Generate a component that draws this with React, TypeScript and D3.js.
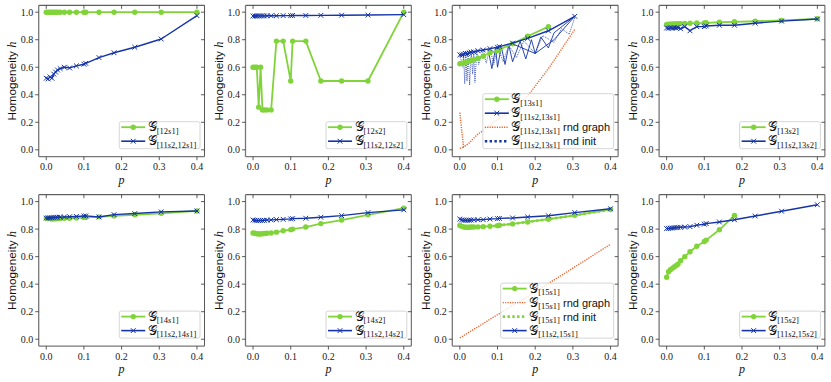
import React, { useRef, useEffect } from "react"
import * as d3 from "d3"

// p values used for every run
const pGrid = [0, 0.005, 0.01, 0.015, 0.02, 0.025, 0.03, 0.037, 0.048, 0.062, 0.08, 0.1, 0.105, 0.14, 0.18, 0.235, 0.305, 0.4]
const xTicks = [0, 0.1, 0.2, 0.3, 0.4]
const yTicks = [0, 0.2, 0.4, 0.6, 0.8, 1.0]

// panel 1
const h12s1 = [1, 1, 1, 1, 1, 1, 1, 1, 1, 1, 1, 1, 1, 1, 1, 1, 1, 1]
const h11s2_12s1 = [0.52, 0.515, 0.53, 0.52, 0.55, 0.565, 0.58, 0.59, 0.6, 0.595, 0.61, 0.622, 0.628, 0.67, 0.705, 0.745, 0.805, 0.975]
// panel 2
const h12s2 = [0.6, 0.6, 0.6, 0.31, 0.6, 0.29, 0.29, 0.29, 0.29, 0.79, 0.79, 0.5, 0.79, 0.79, 0.5, 0.5, 0.5, 1.0]
const h11s2_12s2 = [0.972, 0.972, 0.972, 0.973, 0.973, 0.973, 0.973, 0.974, 0.974, 0.974, 0.975, 0.975, 0.976, 0.976, 0.977, 0.978, 0.979, 0.982]
// panel 3
const h13s1 = [0.625, 0.628, 0.632, 0.636, 0.64, 0.645, 0.65, 0.655, 0.665, 0.68, 0.705, 0.72, 0.73, 0.77, 0.825, 0.895]
const h11s2_13s1 = [0.69, 0.69, 0.695, 0.7, 0.7, 0.705, 0.71, 0.712, 0.72, 0.725, 0.735, 0.745, 0.75, 0.775, 0.81, 0.865, 0.97]
const rndGraph13s1 = [0.27, 0.14, 0.02, 0.03, 0.04, 0.05, 0.065, 0.085, 0.115, 0.14, 0.18, 0.22, 0.23, 0.3, 0.39, 0.59, 0.875]
const rndGraph13s1StartP = [0, 0.01]
const rndGraph13s1StartH = [0.01, 0.02]
const rndInit13s1P = [0, 0.008, 0.01, 0.013, 0.016, 0.019, 0.022, 0.026, 0.03, 0.034, 0.037, 0.04, 0.045, 0.05, 0.062, 0.07, 0.08, 0.09, 0.1, 0.115, 0.13, 0.15, 0.17, 0.2, 0.22, 0.25, 0.27, 0.29, 0.305]
const rndInit13s1H = [0.69, 0.6, 0.69, 0.48, 0.7, 0.5, 0.7, 0.47, 0.71, 0.55, 0.71, 0.49, 0.72, 0.62, 0.73, 0.63, 0.74, 0.62, 0.75, 0.64, 0.76, 0.67, 0.79, 0.7, 0.83, 0.78, 0.88, 0.84, 0.96]
const runs13s1P = [0.075, 0.085, 0.095, 0.1, 0.11, 0.12, 0.13, 0.14, 0.16, 0.175, 0.19, 0.2, 0.215, 0.235, 0.25, 0.305, 0.25, 0.2, 0.14]
const runs13s1H = [0.73, 0.59, 0.74, 0.6, 0.75, 0.62, 0.76, 0.64, 0.79, 0.66, 0.8, 0.7, 0.82, 0.74, 0.85, 0.97, 0.8, 0.7, 0.77]
// panel 4
const h13s2 = [0.91, 0.912, 0.913, 0.914, 0.915, 0.915, 0.916, 0.917, 0.918, 0.92, 0.921, 0.922, 0.923, 0.927, 0.93, 0.934, 0.94, 0.952]
const h11s2_13s2 = [0.885, 0.883, 0.886, 0.884, 0.887, 0.885, 0.888, 0.88, 0.895, 0.865, 0.895, 0.895, 0.9, 0.905, 0.905, 0.92, 0.935, 0.95]
// panel 5
const h14s1 = [0.88, 0.878, 0.876, 0.874, 0.874, 0.875, 0.876, 0.877, 0.878, 0.879, 0.881, 0.884, 0.885, 0.889, 0.896, 0.904, 0.915, 0.932]
const h11s2_14s1 = [0.88, 0.881, 0.882, 0.883, 0.884, 0.885, 0.886, 0.887, 0.888, 0.89, 0.892, 0.895, 0.896, 0.888, 0.905, 0.913, 0.925, 0.932]
// panel 6
const h14s2 = [0.772, 0.77, 0.766, 0.764, 0.765, 0.766, 0.768, 0.77, 0.772, 0.778, 0.788, 0.796, 0.8, 0.815, 0.84, 0.866, 0.904, 0.952]
const h11s2_14s2 = [0.866, 0.864, 0.863, 0.862, 0.863, 0.863, 0.864, 0.865, 0.867, 0.869, 0.871, 0.874, 0.876, 0.879, 0.886, 0.898, 0.92, 0.94]
// panel 7
const h15s1 = [0.826, 0.82, 0.816, 0.814, 0.814, 0.814, 0.815, 0.815, 0.816, 0.818, 0.821, 0.825, 0.828, 0.838, 0.852, 0.872, 0.9, 0.943]
const rndGraph15s1 = [0.01, 0.018, 0.026, 0.035, 0.043, 0.052, 0.06, 0.072, 0.09, 0.113, 0.145, 0.178, 0.186, 0.245, 0.31, 0.405, 0.525, 0.69]
const rndInit15s1 = [0.826, 0.82, 0.816, 0.814, 0.814, 0.814, 0.815, 0.815, 0.816, 0.818, 0.821, 0.825, 0.828, 0.838, 0.852, 0.872, 0.9, 0.943]
const h11s2_15s1 = [0.873, 0.867, 0.865, 0.864, 0.864, 0.865, 0.866, 0.867, 0.868, 0.869, 0.873, 0.876, 0.878, 0.881, 0.888, 0.897, 0.92, 0.948]
// panel 8
const h15s2 = [0.45, 0.49, 0.505, 0.515, 0.525, 0.535, 0.545, 0.57, 0.6, 0.635, 0.675, 0.71, 0.72, 0.795, 0.9]
const h11s2_15s2 = [0.804, 0.805, 0.807, 0.808, 0.81, 0.811, 0.812, 0.813, 0.815, 0.818, 0.828, 0.836, 0.84, 0.852, 0.868, 0.895, 0.93, 0.977]

const GREEN = "#80d43a"
const BLUE = "#1434a8"
const ORANGE = "#e9602a"
const SERIF = "'Liberation Serif', 'DejaVu Serif', serif"
const SANS = "'Liberation Sans', Arial, sans-serif"

type Line = { kind: string, p: number[], h: number[], sub?: string, suffix?: string }

const panels: Line[][] = [
  [
    { kind: "green", p: pGrid, h: h12s1, sub: "[12s1]" },
    { kind: "blue", p: pGrid, h: h11s2_12s1, sub: "[11s2,12s1]" },
  ],
  [
    { kind: "green", p: pGrid, h: h12s2, sub: "[12s2]" },
    { kind: "blue", p: pGrid, h: h11s2_12s2, sub: "[11s2,12s2]" },
  ],
  [
    { kind: "orangeDot", p: rndGraph13s1StartP, h: rndGraph13s1StartH },
    { kind: "blueDotThin", p: rndInit13s1P, h: rndInit13s1H },
    { kind: "blueRun", p: runs13s1P, h: runs13s1H },
    { kind: "green", p: pGrid.slice(0, h13s1.length), h: h13s1, sub: "[13s1]" },
    { kind: "blue", p: pGrid.slice(0, h11s2_13s1.length), h: h11s2_13s1, sub: "[11s2,13s1]" },
    { kind: "orangeDot", p: pGrid.slice(0, rndGraph13s1.length), h: rndGraph13s1, sub: "[11s2,13s1]", suffix: "rnd graph" },
    { kind: "blueDot", p: [], h: [], sub: "[11s2,13s1]", suffix: "rnd init" },
  ],
  [
    { kind: "green", p: pGrid, h: h13s2, sub: "[13s2]" },
    { kind: "blue", p: pGrid, h: h11s2_13s2, sub: "[11s2,13s2]" },
  ],
  [
    { kind: "green", p: pGrid, h: h14s1, sub: "[14s1]" },
    { kind: "blue", p: pGrid, h: h11s2_14s1, sub: "[11s2,14s1]" },
  ],
  [
    { kind: "green", p: pGrid, h: h14s2, sub: "[14s2]" },
    { kind: "blue", p: pGrid, h: h11s2_14s2, sub: "[11s2,14s2]" },
  ],
  [
    { kind: "green", p: pGrid, h: h15s1, sub: "[15s1]" },
    { kind: "orangeDot", p: pGrid, h: rndGraph15s1, sub: "[15s1]", suffix: "rnd graph" },
    { kind: "greenDot", p: pGrid, h: rndInit15s1, sub: "[15s1]", suffix: "rnd init" },
    { kind: "blue", p: pGrid, h: h11s2_15s1, sub: "[11s2,15s1]" },
  ],
  [
    { kind: "green", p: pGrid.slice(0, h15s2.length), h: h15s2, sub: "[15s2]" },
    { kind: "blue", p: pGrid, h: h11s2_15s2, sub: "[11s2,15s2]" },
  ],
]

const styles: any = {
  green: { color: GREEN, width: 1.8, dash: null, marker: "o", lw: 1.8, ldash: null },
  blue: { color: BLUE, width: 1.4, dash: null, marker: "x", lw: 1.6, ldash: null },
  blueRun: { color: BLUE, width: 0.9, dash: null, marker: null },
  orangeDot: { color: ORANGE, width: 1.4, dash: "1.2,1.2", marker: null, lw: 1.4, ldash: "1.2,1.2" },
  blueDotThin: { color: BLUE, width: 0.8, dash: "1,1", marker: null },
  blueDot: { color: BLUE, width: 2.6, dash: "2.4,2.4", marker: null, lw: 2.6, ldash: "2.4,2.4" },
  greenDot: { color: GREEN, width: 2.6, dash: "2.4,2.4", marker: null, lw: 2.6, ldash: "2.4,2.4" },
}

const colX0 = 38.7, colStep = 206.8, axW = 165.8
const rowY0 = 5.3, rowStep = 189.4, axH = 151.4

const drawMarker = (g: any, kind: string, x: number, y: number, color: string) => {
  if (kind === "o") {
    g.append("circle").attr("cx", x).attr("cy", y).attr("r", 2.7).attr("fill", color)
  } else if (kind === "x") {
    const s = 2.4
    g.append("path")
      .attr("d", `M${x - s},${y - s}L${x + s},${y + s}M${x - s},${y + s}L${x + s},${y - s}`)
      .attr("stroke", color).attr("stroke-width", 1).attr("fill", "none")
  }
}

const addLabel = (g: any, x: number, y: number, sub: string, suffix?: string) => {
  const t = g.append("text").attr("x", x).attr("y", y + 4).attr("font-family", SERIF).attr("fill", "#111")
  t.append("tspan").attr("font-size", 13).text("𝒢")
  const parts = sub.split(/(s)/).filter((s: string) => s.length)
  parts.forEach((part: string, i: number) => {
    const ts = t.append("tspan").attr("font-size", 8.5).text(part)
    if (part === "s") ts.attr("font-style", "italic")
    if (i === 0) ts.attr("dy", 2.8)
  })
  if (suffix) {
    t.append("tspan").attr("dy", -2.8).attr("font-family", SANS).attr("font-size", 11).text("\u00a0" + suffix)
  }
  return t
}

const App = () => {
  const ref = useRef<SVGSVGElement>(null)

  useEffect(() => {
    const svg = d3.select(ref.current)
    svg.selectAll("*").remove()

    panels.forEach((lines, idx) => {
      const r = Math.floor(idx / 4), c = idx % 4
      const left = colX0 + c * colStep
      const top = rowY0 + r * rowStep
      const right = left + axW, bottom = top + axH

      const x = d3.scaleLinear().domain([-0.02, 0.42]).range([left, right])
      const y = d3.scaleLinear().domain([-0.05, 1.05]).range([bottom, top])

      const g = svg.append("g")

      // data
      lines.forEach(l => {
        const st = styles[l.kind]
        if (!l.p.length) return
        const pts: [number, number][] = l.p.map((p, i) => [x(p), y(l.h[i])])
        const path = g.append("path")
          .attr("d", d3.line()(pts))
          .attr("fill", "none")
          .attr("stroke", st.color)
          .attr("stroke-width", st.width)
          .attr("stroke-linejoin", "round")
        if (st.dash) path.attr("stroke-dasharray", st.dash)
        if (st.marker) pts.forEach(([px, py]) => drawMarker(g, st.marker, px, py, st.color))
      })

      // spines
      g.append("line").attr("x1", left).attr("x2", right).attr("y1", top).attr("y2", top).attr("stroke", "#222").attr("stroke-width", 0.9)
      g.append("line").attr("x1", right).attr("x2", right).attr("y1", top).attr("y2", bottom).attr("stroke", "#444").attr("stroke-width", 0.9)
      g.append("line").attr("x1", left).attr("x2", left).attr("y1", top).attr("y2", bottom).attr("stroke", "#777").attr("stroke-width", 1.3)
      g.append("line").attr("x1", left).attr("x2", right).attr("y1", bottom).attr("y2", bottom).attr("stroke", "#777").attr("stroke-width", 1.3)

      // ticks
      xTicks.forEach(t => {
        const px = x(t)
        g.append("line").attr("x1", px).attr("x2", px).attr("y1", bottom).attr("y2", bottom + 3.5).attr("stroke", "#333").attr("stroke-width", 0.8)
        g.append("line").attr("x1", px).attr("x2", px).attr("y1", top).attr("y2", top + 3.5).attr("stroke", "#333").attr("stroke-width", 0.8)
        g.append("text").attr("x", px).attr("y", bottom + 13.5).attr("text-anchor", "middle")
          .attr("font-family", SERIF).attr("font-size", 10).attr("fill", "#222").text(d3.format(".1f")(t))
      })
      yTicks.forEach(t => {
        const py = y(t)
        g.append("line").attr("x1", left - 3.5).attr("x2", left).attr("y1", py).attr("y2", py).attr("stroke", "#333").attr("stroke-width", 0.8)
        g.append("line").attr("x1", right - 3.5).attr("x2", right).attr("y1", py).attr("y2", py).attr("stroke", "#333").attr("stroke-width", 0.8)
        g.append("text").attr("x", left - 5.5).attr("y", py + 3.5).attr("text-anchor", "end")
          .attr("font-family", SERIF).attr("font-size", 10).attr("fill", "#222").text(d3.format(".1f")(t))
      })

      // axis labels
      g.append("text").attr("x", (left + right) / 2).attr("y", bottom + 27).attr("text-anchor", "middle")
        .attr("font-family", SERIF).attr("font-style", "italic").attr("font-size", 12).attr("fill", "#111").text("p")
      const yl = g.append("text")
        .attr("transform", `translate(${left - 22.5},${(top + bottom) / 2}) rotate(-90)`)
        .attr("text-anchor", "middle").attr("fill", "#111")
      yl.append("tspan").attr("font-family", SANS).attr("font-size", 11.8).text("Homogeneity ")
      yl.append("tspan").attr("font-family", SERIF).attr("font-style", "italic").attr("font-size", 12.5).text("h")

      // legend
      const entries = lines.filter(l => l.sub)
      const lg = g.append("g")
      const box = lg.append("rect")
      const texts: any[] = []
      entries.forEach(l => {
        texts.push(addLabel(lg, 0, 0, l.sub as string, l.suffix))
      })
      const maxW = d3.max(texts, (t: any) => (t.node() as SVGTextElement).getBBox().width) || 40
      const bw = 28.5 + maxW + 3.5
      const bh = entries.length * 14 - 1
      const bx = right - 4.5 - bw
      const by = bottom - 8 - bh
      box.attr("x", bx).attr("y", by).attr("width", bw).attr("height", bh).attr("rx", 2)
        .attr("fill", "white").attr("fill-opacity", 0.8).attr("stroke", "#cccccc").attr("stroke-width", 0.8)
      entries.forEach((l, i) => {
        const st = styles[l.kind]
        const cy = by + 5.5 + i * 14
        const hl = lg.append("line").attr("x1", bx + 2).attr("x2", bx + 26).attr("y1", cy).attr("y2", cy)
          .attr("stroke", st.color).attr("stroke-width", st.lw)
        if (st.ldash) hl.attr("stroke-dasharray", st.ldash)
        if (st.marker) drawMarker(lg, st.marker, bx + 14, cy, st.color)
        texts[i].attr("x", bx + 28.5).attr("y", cy + 4)
      })
    })
  }, [])

  return (
    <svg ref={ref} width={831} height={382} style={{ position: "absolute", left: 0, top: 0, background: "white" }} />
  )
}

export default App
